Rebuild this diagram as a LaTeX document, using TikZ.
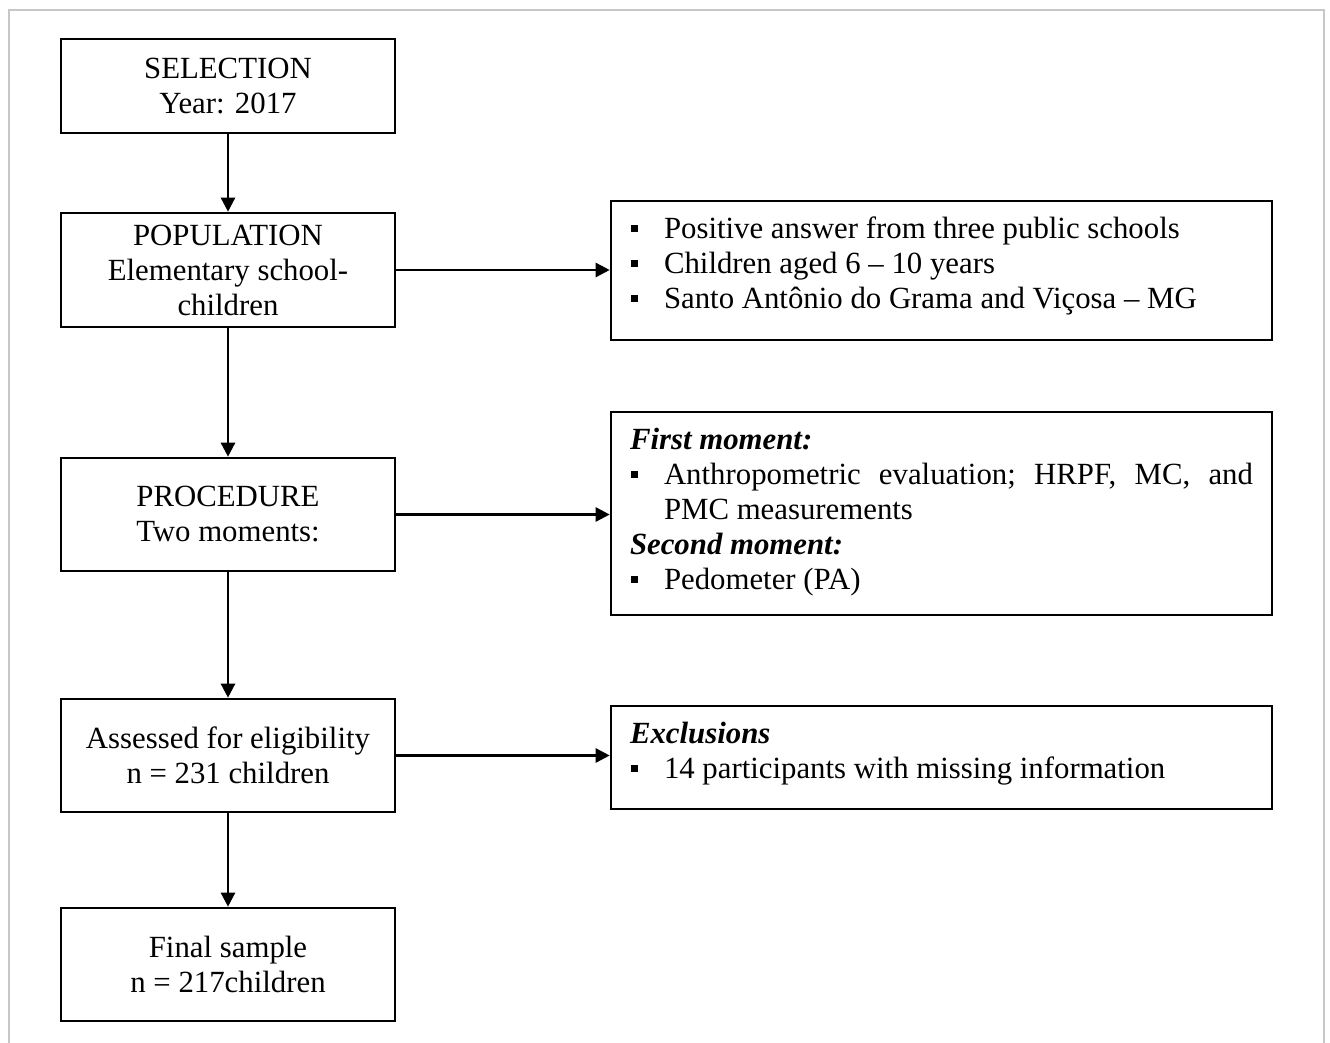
\documentclass[tikz,border=0pt]{standalone}
\usepackage{fontspec}
\setmainfont{Liberation Serif}
\usetikzlibrary{arrows.meta}
\newcommand{\bulitem}{\makebox[33pt][l]{\rule[6pt]{7pt}{7pt}}}
\tikzset{
  every node/.style={font=\fontsize{30.8}{35}\selectfont},
  lbox/.style={draw, line width=2.6pt, rectangle, minimum width=334pt, inner sep=0pt, align=center},
  rbox/.style={draw, line width=2.6pt, rectangle, minimum width=661pt, inner sep=0pt},
  txt/.style={anchor=base west, inner sep=0pt, outer sep=0pt},
  arr/.style={line width=2.5pt, -{Triangle[length=14pt,width=14pt]}},
  frame/.style={draw=black!22, line width=2pt}
}
\begin{document}
\begin{tikzpicture}[x=1pt,y=-1pt]
\useasboundingbox (0,0) rectangle (1330,1043);
\draw[frame] (9,1043) -- (9,10) -- (1324,10) -- (1324,1043);

\node[lbox, minimum height=94pt] (sel) at (228,86) {SELECTION\\Year: 2017};
\node[lbox, minimum height=114pt] (pop) at (228,270) {POPULATION\\Elementary school-\\children};
\node[lbox, minimum height=113pt] (proc) at (228,514.5) {PROCEDURE\\Two moments:};
\node[lbox, minimum height=113pt] (ass) at (228,755.5) {Assessed for eligibility\\n = 231 children};
\node[lbox, minimum height=113pt] (fin) at (228,964.5) {Final sample\\n = 217children};

\node[rbox, minimum height=139pt] (r1) at (941.5,270.5) {};
\node[rbox, minimum height=203pt] (r2) at (941.5,513.5) {};
\node[rbox, minimum height=103pt] (r3) at (941.5,757.5) {};

\node[txt] (r1a) at (631,238) {\bulitem Positive answer from three public schools};
\node[txt] (r1b) at (631,273) {\bulitem Children aged 6 -- 10 years};
\node[txt] (r1c) at (631,308) {\bulitem Santo Antônio do Grama and Viçosa -- MG};

\node[txt] (r2a) at (630,449) {\textbf{\textit{First moment:}}};
\node[txt] (r2b) at (631,484) {\bulitem\hbox to 589pt{Anthropometric\hfill evaluation;\hfill HRPF,\hfill MC,\hfill and}};
\node[txt] (r2c) at (664,519) {PMC measurements};
\node[txt] (r2d) at (630,554) {\textbf{\textit{Second moment:}}};
\node[txt] (r2e) at (631,589) {\bulitem Pedometer (PA)};

\node[txt] (r3a) at (630,743) {\textbf{\textit{Exclusions}}};
\node[txt] (r3b) at (631,778) {\bulitem 14 participants with missing information};

\draw[arr] (sel) -- (pop);
\draw[arr] (pop) -- (proc);
\draw[arr] (proc) -- (ass);
\draw[arr] (ass) -- (fin);
\draw[arr] (pop.east) -- (pop.east -| r1.west);
\draw[arr] (proc.east) -- (proc.east -| r2.west);
\draw[arr] (ass.east) -- (ass.east -| r3.west);
\end{tikzpicture}
\end{document}
